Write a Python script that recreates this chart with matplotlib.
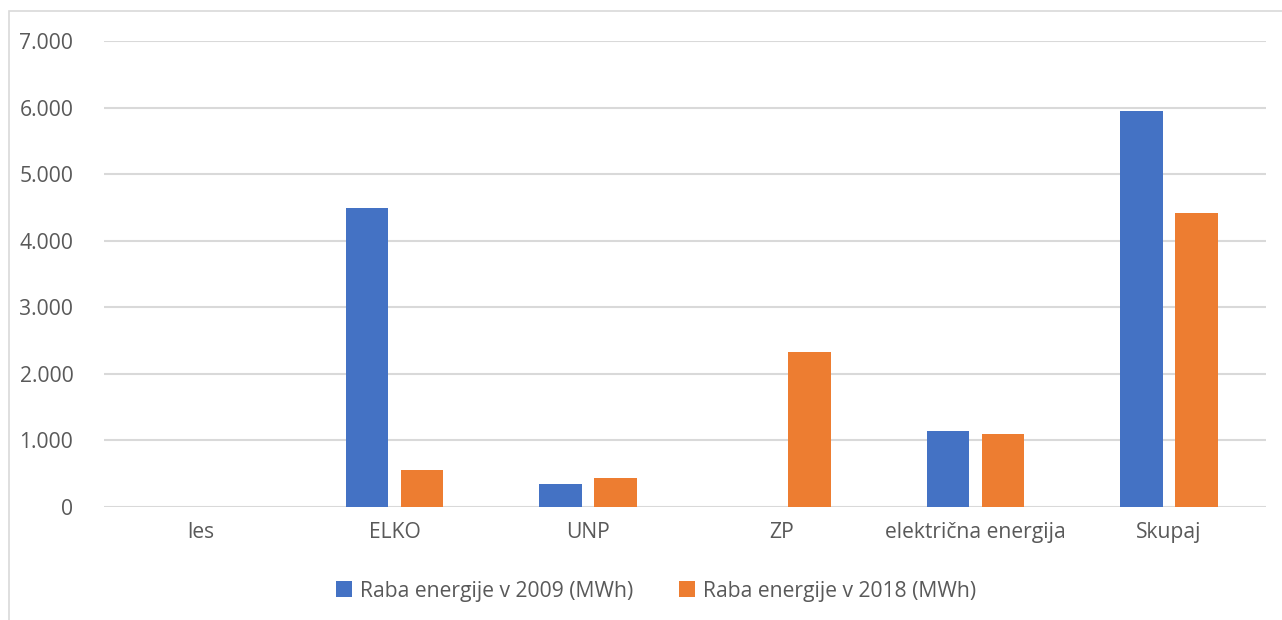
import numpy as np
import matplotlib.pyplot as plt
from matplotlib.patches import Rectangle
from matplotlib.ticker import FuncFormatter

# energy use by source, MWh
categories = ['les', 'ELKO', 'UNP', 'ZP', 'električna energija', 'Skupaj']
use_2009 = [0, 4490, 345, 0, 1135, 5955]
use_2018 = [0, 560, 435, 2330, 1090, 4420]
label_2009 = 'Raba energije v 2009 (MWh)'
label_2018 = 'Raba energije v 2018 (MWh)'

plt.rcParams['font.family'] = ['Open Sans', 'DejaVu Sans']
text_col = '#595959'
grid_col = '#d9d9d9'
fs = 15.2

fig = plt.figure(figsize=(12.82, 6.2), dpi=100)
ax = fig.add_axes([104 / 1282, 1 - 507 / 620, 1162 / 1282, 466 / 620])

# outer chart frame
fig.patches.append(Rectangle((9 / 1282, -0.1), 1.1, 1.1 - 11 / 620,
                             transform=fig.transFigure, fill=False,
                             edgecolor=grid_col, linewidth=1.2))

x = np.arange(len(categories))
w = 0.222
off = 0.142
ax.bar(x - off, use_2009, w, color='#4472c4', label=label_2009, zorder=3)
ax.bar(x + off, use_2018, w, color='#ed7d31', label=label_2018, zorder=3)

ax.set_xlim(-0.5, len(categories) - 0.5)
ax.set_ylim(0, 7000)
ax.set_yticks(range(0, 7001, 1000))
ax.yaxis.set_major_formatter(FuncFormatter(lambda v, p: f'{int(v):,}'.replace(',', '.')))
ax.set_xticks(x)
ax.set_xticklabels(categories)

ax.grid(axis='y', color=grid_col, linewidth=1.5, zorder=0)
for s in ax.spines.values():
    s.set_visible(False)
ax.tick_params(axis='both', length=0, labelsize=fs, colors=text_col)
ax.tick_params(axis='y', pad=22)
ax.tick_params(axis='x', pad=11)

leg = fig.legend(loc='center', bbox_to_anchor=(656 / 1282, 1 - 591 / 620), ncol=2,
                 frameon=False, fontsize=fs, handlelength=0.75, handleheight=0.75,
                 handletextpad=0.35, columnspacing=2.2)
for t in leg.get_texts():
    t.set_color(text_col)

fig.savefig('out.png', dpi=100)
